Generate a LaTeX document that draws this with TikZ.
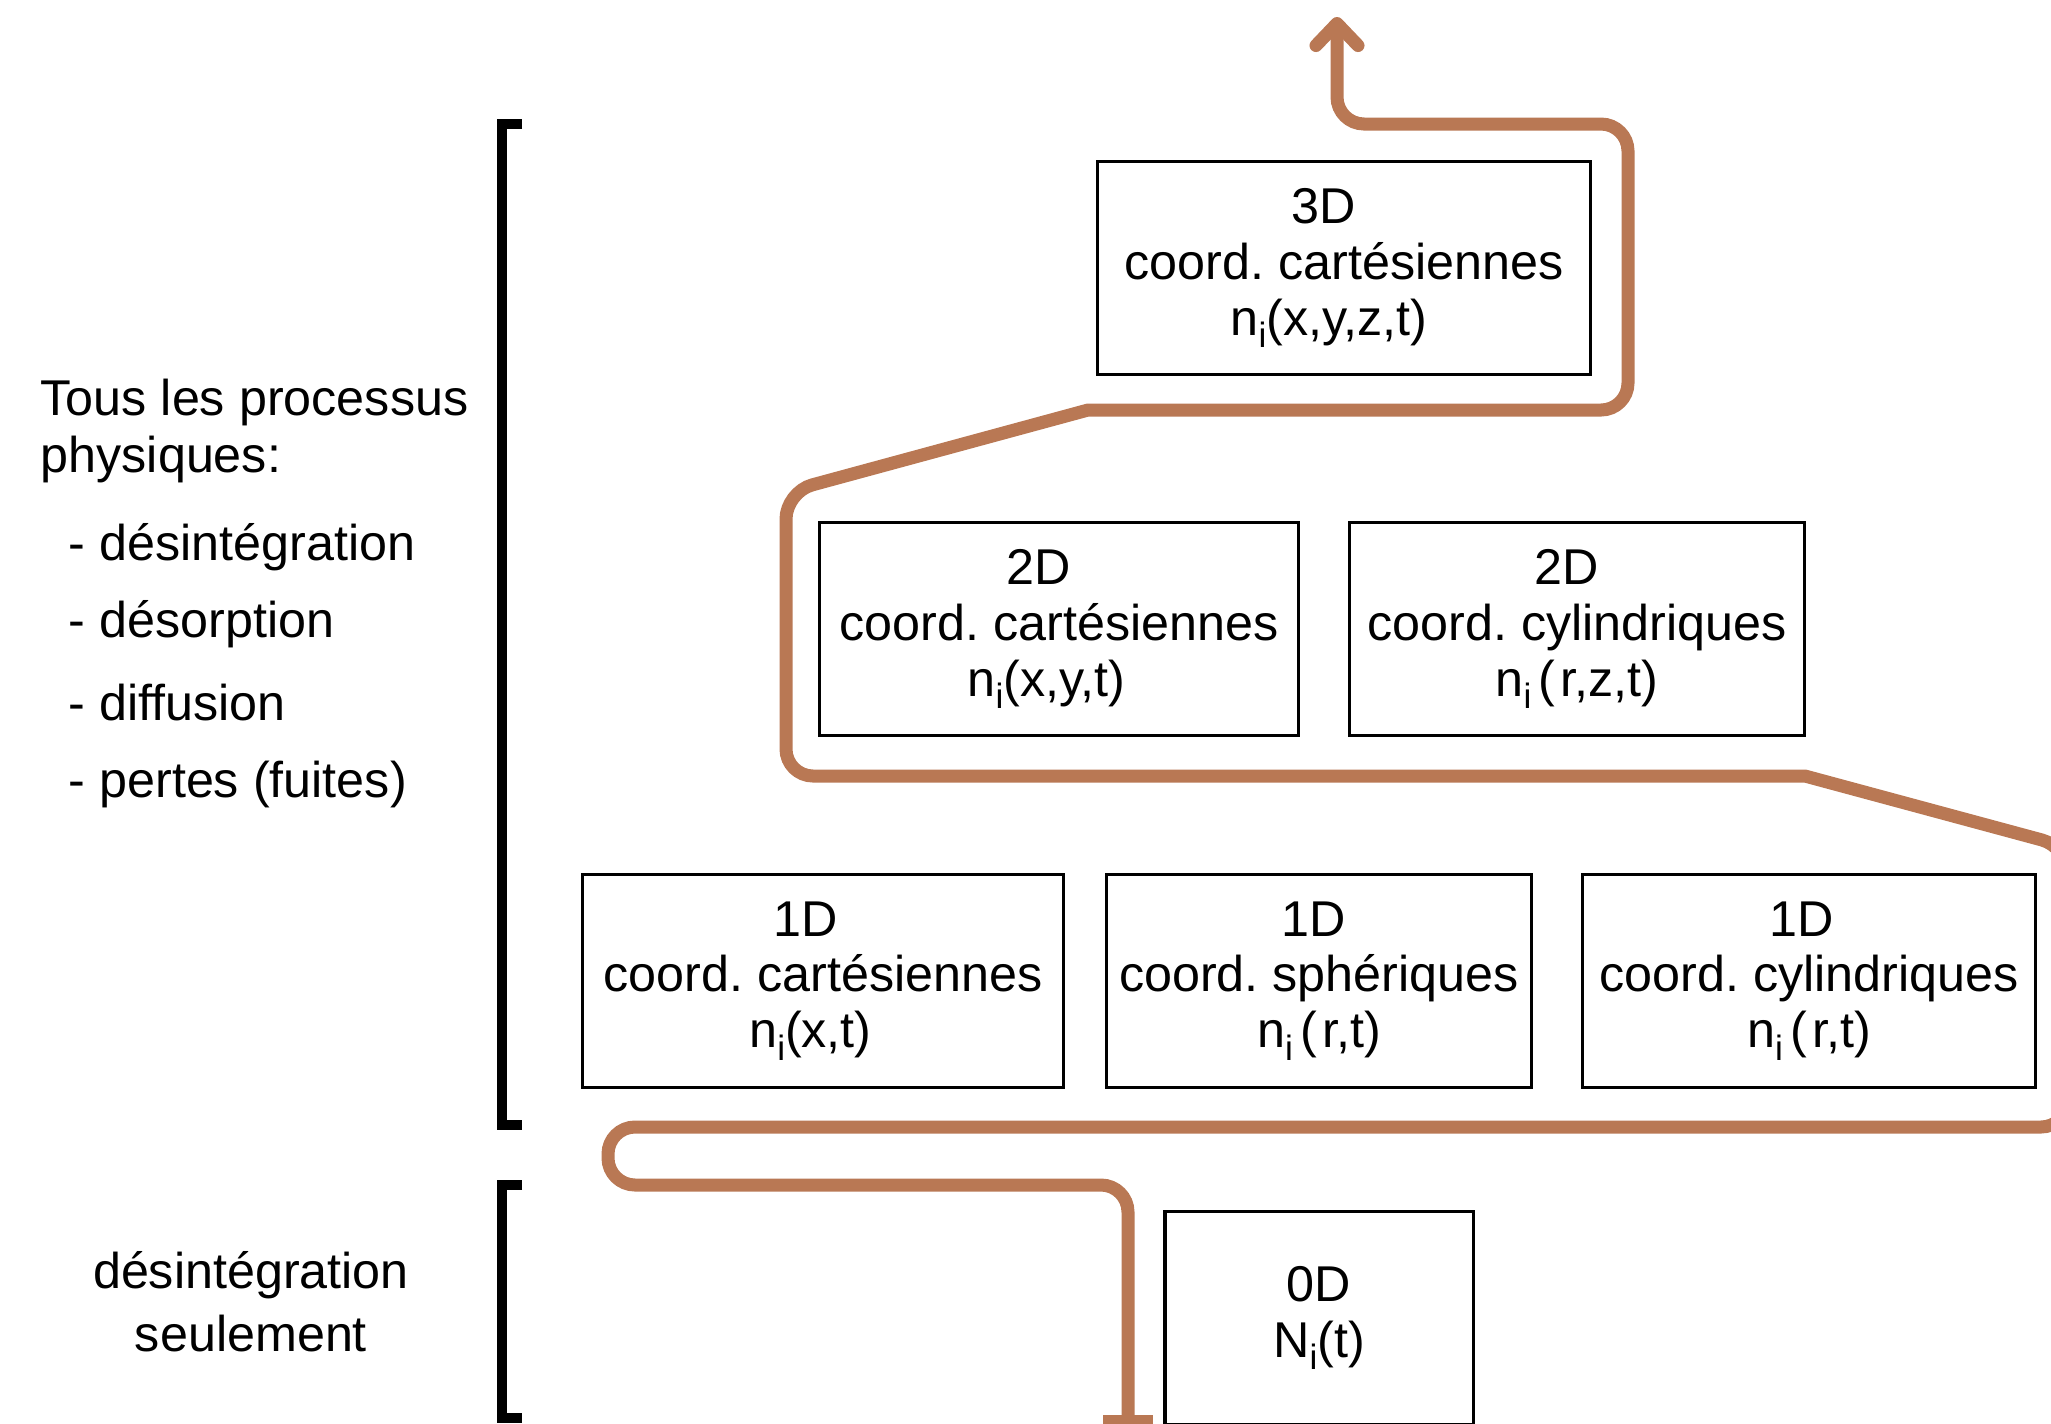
\documentclass[tikz,border=0pt]{standalone}
\usepackage{fontspec}
\setmainfont{Liberation Sans}
\usepackage{xcolor}
\usetikzlibrary{arrows.meta}
\frenchspacing

\definecolor{cuivre}{RGB}{185,120,84}
\newcommand{\txtfont}{\fontsize{14.3}{15.9}\selectfont}
% lowered index, as in n_i
\newcommand{\ind}[1]{\raisebox{-3.6pt}{\fontsize{10}{10}\selectfont #1}}

\begin{document}
\begin{tikzpicture}[x=0.01cm,y=-0.01cm,
  dimbox/.style={draw,line width=0.9pt,minimum height=2.13cm,inner sep=0pt,align=center,font=\txtfont},
  label/.style={anchor=base west,inner sep=0pt,font=\txtfont},
  bracket/.style={line width=2.85pt},
  flow/.style={cuivre,line width=3.7pt,rounded corners=0.27cm}]
\useasboundingbox (0,0) rectangle (2051,1423);

% the models, one row per dimension
\node[dimbox,minimum width=4.92cm] (d3) at (1344,268) {3D\hspace*{0.4cm}\\coord. cartésiennes\\n\ind{i}(x,y,z,t)\hspace*{0.3cm}};
\node[dimbox,minimum width=4.79cm] (d2cart) at (1059,629) {2D\hspace*{0.4cm}\\coord. cartésiennes\\n\ind{i}(x,y,t)\hspace*{0.25cm}};
\node[dimbox,minimum width=4.55cm] (d2cyl) at (1577,629) {2D\hspace*{0.2cm}\\coord. cylindriques\\n\ind{i}\kern2pt(\kern1.5pt r,z,t)};
\node[dimbox,minimum width=4.80cm] (d1cart) at (823,981) {1D\hspace*{0.35cm}\\coord. cartésiennes\\n\ind{i}(x,t)\hspace*{0.25cm}};
\node[dimbox,minimum width=4.25cm] (d1sph) at (1319,981) {1D\hspace*{0.1cm}\\coord. sphériques\\n\ind{i}\kern2pt(\kern1.5pt r,t)};
\node[dimbox,minimum width=4.53cm] (d1cyl) at (1809,981) {1D\hspace*{0.15cm}\\coord. cylindriques\\n\ind{i}\kern2pt(\kern1.5pt r,t)};
\node[dimbox,minimum width=3.08cm] (d0) at (1319,1318) {0D\\N\ind{i}(t)};

% processes on the left
\node[label] (tous) at (40,415) {Tous les processus};
\node[label] (phys) at (40,472) {physiques:};
\foreach \y/\t [count=\k] in {560/désintégration,637/désorption,720/diffusion,797/pertes (fuites)}
  \node[label] (proc\k) at (68,\y) {- \t};
\node[align=center,inner sep=0pt,font=\fontsize{14.3}{18}\selectfont] (seul) at (251,1302) {désintégration\\seulement};

\draw[bracket] (522,124) -- (502,124) -- (502,1125) -- (522,1125);
\draw[bracket] (522,1185) -- (502,1185) -- (502,1418) -- (522,1418);

% path through the models (kinks at the slopes stay sharp)
\coordinate (start) at (1128,1428);
\coordinate (tip) at (1337,17);
\draw[flow,{Bar[width=0.5cm]}-{Straight Barb[length=2.2mm,width=4.2mm,round]}]
  (start) -- (1128,1185) -- (608,1185) -- (608,1127) -- (2068,1127)
  -- (2068,847) [sharp corners] -- (1805,776) [rounded corners=0.27cm] -- (786,776)
  -- (786,492) [sharp corners] -- (1088,410) [rounded corners=0.27cm] -- (1628,410)
  -- (1628,124) -- (1337,124) -- (tip);
\end{tikzpicture}
\end{document}
